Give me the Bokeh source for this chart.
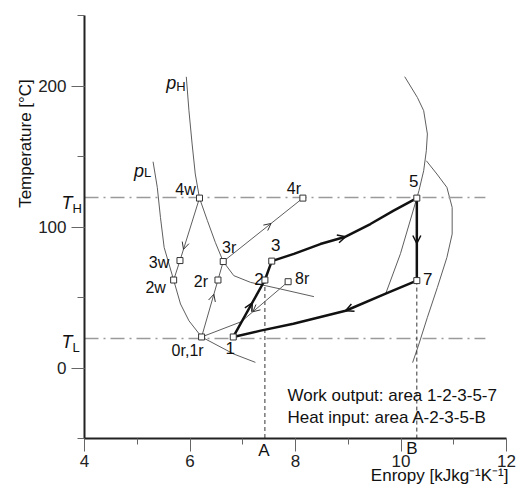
import numpy as np
from bokeh.plotting import figure
from bokeh.models import Range1d, SingleIntervalTicker, Arrow, OpenHead, Label, ColumnDataSource
from bokeh.embed import file_html
from bokeh.resources import INLINE
from bokeh.core.properties import value

# ---------------- data: entropy s [kJ/kgK], temperature T [°C] ----------------
T_H = 121
T_L = 21

# thick cycle states 1, 2, 3, 5, 7
cyc_names = ["1", "2", "3", "5", "7"]
cyc_s = [6.82, 7.42, 7.55, 10.30, 10.30]
cyc_T = [22.0, 62.4, 75.8, 120.5, 62.0]

# heat addition path 3 -> 5
heat_s = [7.55, 7.97, 8.47, 8.95, 9.42, 9.86, 10.30]
heat_T = [75.8, 80.9, 87.9, 93.1, 102.1, 111.6, 120.5]

# heat rejection path 7 -> 1
rej_s = [10.30, 9.71, 8.95, 7.96, 7.34, 6.82]
rej_T = [62.0, 52.7, 40.6, 31.4, 26.5, 22.0]

# working-fluid states 4w -> 3w -> 2w
w_names = ["4w", "3w", "2w"]
w_s = [6.18, 5.81, 5.69]
w_T = [120.5, 76.2, 62.4]

# regenerator states 0r,1r -> 2r -> 3r -> 4r
r_names = ["0r,1r", "2r", "3r", "4r"]
r_s = [6.22, 6.53, 6.63, 8.14]
r_T = [22.0, 62.4, 75.5, 120.5]

# regenerator return 8r -> 0r
r8_names = ["8r"]
r8_s = [7.86, 6.97, 6.22]
r8_T = [61.2, 32.8, 22.0]

# isobar p_H
pH_s = [5.93, 5.98, 6.04, 6.10, 6.18, 6.33, 6.48, 6.63, 6.83, 7.15, 7.72, 8.35]
pH_T = [206.5, 182.5, 158.9, 137.6, 120.5, 104.5, 89.1, 75.5, 65.5, 60.7, 56.0, 50.6]

# isobar p_L
pL_s = [5.30, 5.38, 5.44, 5.51, 5.69, 5.82, 5.98, 6.22, 6.83, 7.24]
pL_T = [146.3, 128.1, 106.8, 85.5, 62.4, 45.4, 33.5, 22.0, 9.9, 4.0]

# right-hand curves
cA_s = [10.07, 10.31, 10.43, 10.50, 10.48, 10.43, 10.34, 10.30, 9.99, 9.71]
cA_T = [206.6, 191.9, 182.5, 166.0, 154.1, 139.9, 125.7, 120.5, 81.1, 52.7]
cB_s = [10.48, 10.68, 10.87, 10.97, 10.97, 10.87, 10.69, 10.50, 10.34, 10.22]
cB_T = [147.0, 137.6, 128.1, 113.9, 95.0, 78.4, 57.2, 35.9, 17.0, 3.8]

x_ticks_interval = 2
y_ticks_interval = 100

# ---------------- figure geometry ----------------
FONT = "Liberation Sans"
X0, X1, Y0, Y1 = 4, 12, -50, 250      # axis extents
W, H = 518, 490                        # canvas size
AX_L, AX_T, AX_W, AX_H = 84, 15, 422, 423   # where the axes box lies in the canvas
PXU = AX_W / (X1 - X0)
PYU = AX_H / (Y1 - Y0)
xr0 = X0 - AX_L / PXU
xr1 = xr0 + W / PXU
yr1 = Y1 + AX_T / PYU
yr0 = yr1 - H / PYU

def px2x(px):
    return xr0 + px / PXU

def py2y(py):
    return yr1 - py / PYU

p = figure(frame_width=W, frame_height=H, x_range=Range1d(xr0, xr1), y_range=Range1d(yr0, yr1),
           min_border=0, toolbar_location=None, output_backend="svg", title=None,
           background_fill_color="white", border_fill_color="white")
p.outline_line_color = None
p.grid.visible = False

for ax, iv in ((p.xaxis[0], x_ticks_interval), (p.yaxis[0], y_ticks_interval)):
    ax.ticker = SingleIntervalTicker(interval=iv, num_minor_ticks=2)
    ax.axis_line_width = 2
    ax.axis_line_color = "#222222"
    ax.major_tick_out = 13
    ax.major_tick_in = 0
    ax.minor_tick_in = 0
    ax.major_tick_line_color = "#666666"
    ax.minor_tick_line_color = "#666666"
    ax.major_label_text_font = FONT
    ax.major_label_text_font_size = "17px"
    ax.major_label_text_color = "#222222"
p.xaxis.fixed_location = Y0
p.yaxis.fixed_location = X0
p.xaxis.bounds = (X0, X1)
p.yaxis.bounds = (Y0, Y1)
p.xaxis.minor_tick_out = 6
p.yaxis.minor_tick_out = 7
p.xaxis.major_label_standoff = 3
p.yaxis.major_label_standoff = 5

THIN = "#5e5e5e"
# thin curves
for xs, ys in ((pH_s, pH_T), (pL_s, pL_T), (cA_s, cA_T), (cB_s, cB_T)):
    p.line(xs, ys, line_color=THIN, line_width=1)

# T_H / T_L dash-dot lines
line_end = 11.6
for t in (T_H, T_L):
    p.line([X0, line_end], [t, t], line_color="#9a9a9a", line_width=1.5, line_dash="14 5 2 5")

# dashed verticals at A and B
p.segment(x0=[cyc_s[1], cyc_s[4]], y0=[cyc_T[1], cyc_T[4]], x1=[cyc_s[1], cyc_s[4]], y1=[Y0, Y0],
          line_color="#333333", line_width=1, line_dash="4 3")

# thin process lines
p.line(r_s, r_T, line_color=THIN, line_width=1)
p.line(w_s, w_T, line_color=THIN, line_width=1)
p.line(r8_s, r8_T, line_color=THIN, line_width=1)

# thick cycle
THICK = "#111111"
p.line(cyc_s[0:3], cyc_T[0:3], line_color=THICK, line_width=2.5)
p.line(heat_s, heat_T, line_color=THICK, line_width=2.5)
p.line(cyc_s[3:5], cyc_T[3:5], line_color=THICK, line_width=2.5)
p.line(rej_s, rej_T, line_color=THICK, line_width=2.5)

def arrow_on(xa, ya, xb, yb, f, size, lw, color):
    xs = xa + (f - 0.05) * (xb - xa)
    ys = ya + (f - 0.05) * (yb - ya)
    xe = xa + f * (xb - xa)
    ye = ya + f * (yb - ya)
    p.add_layout(Arrow(end=OpenHead(size=size, line_width=lw, line_color=color),
                       x_start=xs, y_start=ys, x_end=xe, y_end=ye, line_alpha=0))

arrow_on(cyc_s[0], cyc_T[0], cyc_s[1], cyc_T[1], 0.6, 8, 1.5, THICK)
arrow_on(heat_s[2], heat_T[2], heat_s[3], heat_T[3], 1.0, 8, 1.5, THICK)
arrow_on(cyc_s[3], cyc_T[3], cyc_s[4], cyc_T[4], 0.55, 8, 1.5, THICK)
arrow_on(rej_s[1], rej_T[1], rej_s[2], rej_T[2], 1.0, 8, 1.5, THICK)
arrow_on(r_s[0], r_T[0], r_s[1], r_T[1], 0.75, 7, 1, "#333333")
arrow_on(r_s[2], r_T[2], r_s[3], r_T[3], 0.6, 7, 1, "#333333")
arrow_on(w_s[0], w_T[0], w_s[1], w_T[1], 0.82, 7, 1, "#333333")
arrow_on(r8_s[0], r8_T[0], r8_s[1], r8_T[1], 0.75, 7, 1, "#333333")

# state markers
all_s = cyc_s + w_s + r_s + r8_s[:1]
all_T = cyc_T + w_T + r_T + r8_T[:1]
p.scatter(all_s, all_T, marker="square", size=6, fill_color="white", line_color="#333333", line_width=1)

# state labels
lab_names = cyc_names + w_names + r_names + r8_names
lab_dx = [-3, -6, 4, -3, 11, -14, -21, -18, -14, -17, 6, -9, 14]
lab_dy = [11, -1, -16, -17, -2, -9, 2, 7, 14, 1, -14, -10, -3]
lab_fs = ["17px"] * 5 + ["16px"] * 8
src = ColumnDataSource(dict(x=all_s, y=all_T, t=lab_names, dx=lab_dx, dy=lab_dy, fs=lab_fs))
p.text(x="x", y="y", text="t", x_offset="dx", y_offset="dy", text_font_size="fs", source=src,
       text_font=value(FONT), text_align="center", text_baseline="middle", text_color="#111111")

# A / B
p.text(x=[cyc_s[1], cyc_s[4]], y=[Y0, Y0], text=["A", "B"], x_offset=[-1, -5], y_offset=[12, 10],
       text_font=value(FONT), text_font_size="17px", text_align="center", text_baseline="middle",
       text_color="#111111")

# p_H, p_L, T_H, T_L
def sub_label(x, y, main, sub, dx, dy, sdy):
    p.add_layout(Label(x=x, y=y, text=main, x_offset=dx, y_offset=-dy, text_align="right",
                       text_baseline="alphabetic", text_font=FONT, text_font_style="italic",
                       text_font_size="18px", text_color="#111111"))
    p.add_layout(Label(x=x, y=y, text=sub, x_offset=dx, y_offset=-sdy, text_align="left",
                       text_baseline="alphabetic", text_font=FONT,
                       text_font_size="13px", text_color="#111111"))

sub_label(pH_s[0], pH_T[0], "p", "H", -10, 6, 10)
sub_label(pL_s[0], pL_T[0], "p", "L", -9, 9, 11)
sub_label(X0, T_H, "T", "H", -12, 6, 11)
sub_label(X0, T_L, "T", "L", -12, 4, 9)

# annotation text
p.add_layout(Label(x=px2x(287), y=py2y(395), text="Work output: area 1-2-3-5-7", text_font=FONT,
                   text_font_size="17px", text_align="left", text_baseline="middle", text_color="#111111"))
p.add_layout(Label(x=px2x(287), y=py2y(417), text="Heat input: area A-2-3-5-B", text_font=FONT,
                   text_font_size="17px", text_align="left", text_baseline="middle", text_color="#111111"))

# axis titles
p.add_layout(Label(x=px2x(25), y=py2y(143), text="Temperature [°C]", angle=np.pi / 2,
                   text_font=FONT, text_font_size="17px", text_align="center", text_baseline="middle",
                   text_color="#111111"))
p.add_layout(Label(x=px2x(508), y=py2y(475), text="Enropy [kJkg⁻¹K⁻¹]",
                   text_font=FONT, text_font_size="17px", text_align="right", text_baseline="middle",
                   text_color="#111111"))

open("out.html", "w").write(file_html(p, INLINE))
